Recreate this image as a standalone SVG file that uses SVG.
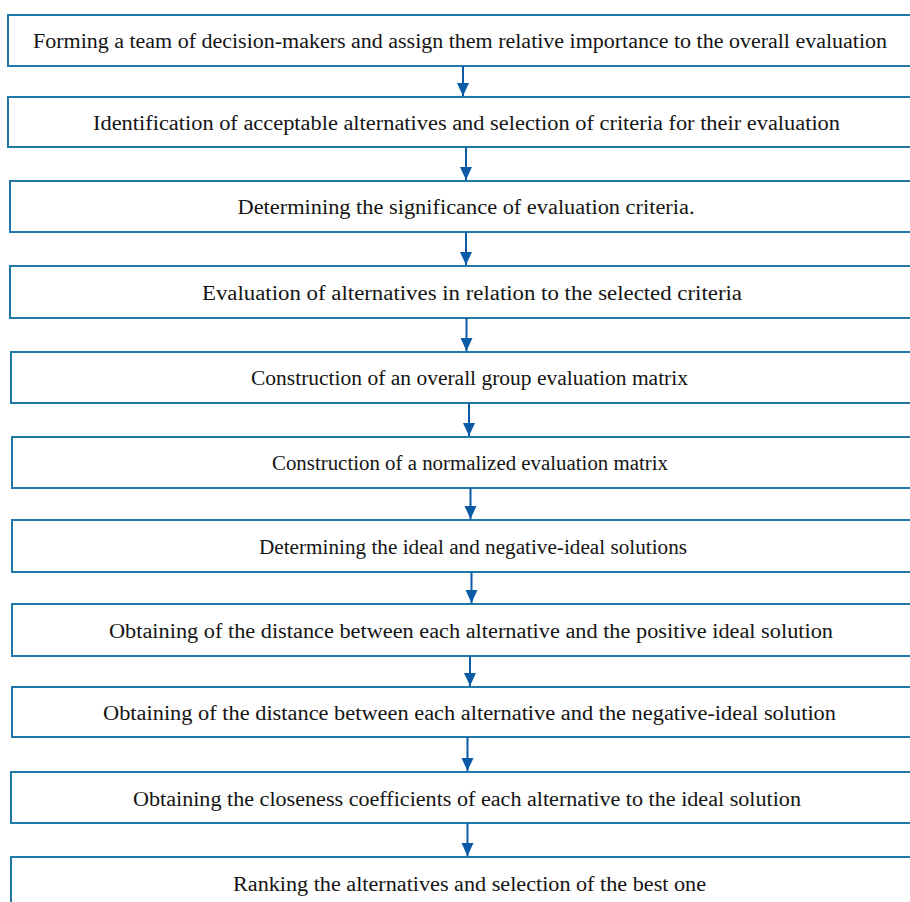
<svg xmlns="http://www.w3.org/2000/svg" width="910" height="902" viewBox="0 0 910 902">
<style>
.box{fill:#ffffff;stroke:#1f78a8;stroke-width:2}
.lbl{font-family:"Liberation Serif","Times New Roman",serif;font-size:20px;fill:#141414;text-anchor:middle}
.con{stroke:#0b5aa6;stroke-width:2;fill:none}
</style>
<defs>
<marker id="ah" markerWidth="13" markerHeight="13" viewBox="0 0 13 13" refX="13" refY="6.5" orient="auto" markerUnits="userSpaceOnUse">
<path d="M0,0.5 L13,6.5 L0,12.5 Z" fill="#0b5aa6"/>
</marker>
</defs>
<rect width="910" height="902" fill="#ffffff"/>
<g id="n1"><rect class="box" x="8" y="15" width="920" height="51"/><text class="lbl" x="460" y="48" textLength="854" lengthAdjust="spacingAndGlyphs">Forming a team of decision-makers and assign them relative importance to the overall evaluation</text></g>
<g id="n2"><rect class="box" x="8" y="97" width="920" height="50"/><text class="lbl" x="466.5" y="130" textLength="747" lengthAdjust="spacingAndGlyphs">Identification of acceptable alternatives and selection of criteria for their evaluation</text></g>
<g id="n3"><rect class="box" x="10" y="181" width="920" height="51"/><text class="lbl" x="466" y="214" textLength="457" lengthAdjust="spacingAndGlyphs">Determining the significance of evaluation criteria.</text></g>
<g id="n4"><rect class="box" x="10" y="266" width="920" height="52"/><text class="lbl" x="472" y="300" textLength="540" lengthAdjust="spacingAndGlyphs">Evaluation of alternatives in relation to the selected criteria</text></g>
<g id="n5"><rect class="box" x="11" y="352" width="920" height="51"/><text class="lbl" x="469.5" y="385" textLength="437" lengthAdjust="spacingAndGlyphs">Construction of an overall group evaluation matrix</text></g>
<g id="n6"><rect class="box" x="12" y="437" width="920" height="51"/><text class="lbl" x="470" y="470" textLength="396" lengthAdjust="spacingAndGlyphs">Construction of a normalized evaluation matrix</text></g>
<g id="n7"><rect class="box" x="12" y="520" width="920" height="52"/><text class="lbl" x="473" y="554" textLength="428" lengthAdjust="spacingAndGlyphs">Determining the ideal and negative-ideal solutions</text></g>
<g id="n8"><rect class="box" x="12" y="604" width="920" height="52"/><text class="lbl" x="471" y="638" textLength="724" lengthAdjust="spacingAndGlyphs">Obtaining of the distance between each alternative and the positive ideal solution</text></g>
<g id="n9"><rect class="box" x="12" y="687" width="920" height="50"/><text class="lbl" x="469.5" y="720" textLength="733" lengthAdjust="spacingAndGlyphs">Obtaining of the distance between each alternative and the negative-ideal solution</text></g>
<g id="n10"><rect class="box" x="11" y="772" width="920" height="51"/><text class="lbl" x="467" y="806" textLength="668" lengthAdjust="spacingAndGlyphs">Obtaining the closeness coefficients of each alternative to the ideal solution</text></g>
<g id="n11"><rect class="box" x="11" y="857" width="920" height="60"/><text class="lbl" x="469.5" y="891" textLength="473" lengthAdjust="spacingAndGlyphs">Ranking the alternatives and selection of the best one</text></g>
<g id="connectors">
<line class="con" x1="463" y1="66" x2="463" y2="96" marker-end="url(#ah)"/>
<line class="con" x1="466" y1="147" x2="466" y2="180" marker-end="url(#ah)"/>
<line class="con" x1="466" y1="232" x2="466" y2="265" marker-end="url(#ah)"/>
<line class="con" x1="466.5" y1="318" x2="466.5" y2="351" marker-end="url(#ah)"/>
<line class="con" x1="469" y1="403" x2="469" y2="436" marker-end="url(#ah)"/>
<line class="con" x1="470.5" y1="488" x2="470.5" y2="519" marker-end="url(#ah)"/>
<line class="con" x1="471.5" y1="572" x2="471.5" y2="603" marker-end="url(#ah)"/>
<line class="con" x1="470" y1="656" x2="470" y2="686" marker-end="url(#ah)"/>
<line class="con" x1="467.5" y1="737" x2="467.5" y2="771" marker-end="url(#ah)"/>
<line class="con" x1="467.5" y1="823" x2="467.5" y2="856" marker-end="url(#ah)"/>
</g>
</svg>
